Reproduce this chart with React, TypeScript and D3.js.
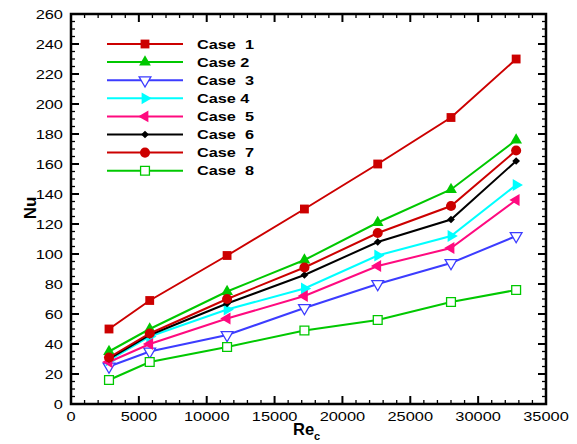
import React from "react";
import * as d3 from "d3";

const reValues = [2800, 5800, 11500, 17200, 22600, 28000, 32800];
const case1 = [50, 69, 99, 130, 160, 191, 230];
const case2 = [35, 50, 75, 96, 121, 143, 176];
const case3 = [25, 35, 46, 64, 80, 94, 112];
const case4 = [29, 45, 63, 77, 99, 112, 146];
const case5 = [28, 40, 57, 72, 92, 104, 136];
const case6 = [30, 46, 67, 86, 108, 123, 162];
const case7 = [31, 47, 70, 91, 114, 132, 169];
const case8 = [16, 28, 38, 49, 56, 68, 76];
const caseLabels = ["Case  1", "Case 2", "Case  3", "Case 4", "Case  5", "Case  6", "Case  7", "Case  8"];

const xTicks = d3.range(0, 35001, 5000);
const yTicks = d3.range(0, 261, 20);

const W = 577;
const H = 444;
const left = 71;
const right = 546;
const top = 14;
const bottom = 404;
const stretch = 1.3; // the source text is drawn wide

type Marker = "square" | "triUp" | "triDown" | "triRight" | "triLeft" | "diamond" | "circle" | "openSquare";

const series: { values: number[]; color: string; marker: Marker }[] = [
  { values: case1, color: "#cc0000", marker: "square" },
  { values: case2, color: "#00c800", marker: "triUp" },
  { values: case3, color: "#3c3cff", marker: "triDown" },
  { values: case4, color: "#00ffff", marker: "triRight" },
  { values: case5, color: "#ff0a7f", marker: "triLeft" },
  { values: case6, color: "#000000", marker: "diamond" },
  { values: case7, color: "#cc0000", marker: "circle" },
  { values: case8, color: "#00c800", marker: "openSquare" },
];

const triPath = d3.symbol(d3.symbolTriangle, 60)();
const squarePath = d3.symbol(d3.symbolSquare, 78)();
const circlePath = d3.symbol(d3.symbolCircle, 80)();
const diamondPath = d3.symbol(d3.symbolSquare, 30)();

function MarkerShape({ kind, color, x, y }: { kind: Marker; color: string; x: number; y: number }) {
  const t = `translate(${x},${y})`;
  switch (kind) {
    case "square":
      return <path d={squarePath!} transform={t} fill={color} />;
    case "openSquare":
      return <path d={squarePath!} transform={t} fill="white" stroke={color} strokeWidth={1.3} />;
    case "circle":
      return <path d={circlePath!} transform={t} fill={color} />;
    case "diamond":
      return <path d={diamondPath!} transform={`${t} rotate(45)`} fill={color} />;
    case "triUp":
      return <path d={triPath!} transform={t} fill={color} />;
    case "triDown":
      return <path d={triPath!} transform={`${t} rotate(180)`} fill="white" stroke={color} strokeWidth={1.3} />;
    case "triRight":
      return <path d={triPath!} transform={`${t} rotate(90)`} fill={color} />;
    case "triLeft":
      return <path d={triPath!} transform={`${t} rotate(-90)`} fill={color} />;
  }
}

export default function App() {
  const x = d3.scaleLinear().domain([0, 35000]).range([left, right]);
  const y = d3.scaleLinear().domain([0, 260]).range([bottom, top]);
  const line = d3
    .line<number>()
    .x((_, i) => x(reValues[i]))
    .y((d) => y(d));

  const xMinor = d3.range(0, 35001, 1000);
  const yMinor = d3.range(0, 261, 5);
  const font = "'Liberation Sans', Arial, sans-serif";

  return (
    <svg width={W} height={H} style={{ position: "absolute", left: 0, top: 0, background: "white" }} fontFamily={font}>
      {/* ticks on all four sides, pointing in */}
      <g stroke="black">
        {xMinor.map((v) => {
          const major = v % 5000 === 0;
          const len = major ? 8 : 4;
          return (
            <g key={"x" + v} strokeWidth={major ? 2 : 1.3}>
              <line x1={x(v)} x2={x(v)} y1={bottom} y2={bottom - len} />
              <line x1={x(v)} x2={x(v)} y1={top} y2={top + len} />
            </g>
          );
        })}
        {yMinor.map((v) => {
          const major = v % 20 === 0;
          const len = major ? 8 : 4;
          return (
            <g key={"y" + v} strokeWidth={major ? 2 : 1.3}>
              <line x1={left} x2={left + len} y1={y(v)} y2={y(v)} />
              <line x1={right} x2={right - len} y1={y(v)} y2={y(v)} />
            </g>
          );
        })}
      </g>

      {series.map((s, si) => (
        <g key={si}>
          <path d={line(s.values)!} fill="none" stroke={s.color} strokeWidth={2} />
          {s.values.map((v, i) => (
            <MarkerShape key={i} kind={s.marker} color={s.color} x={x(reValues[i])} y={y(v)} />
          ))}
        </g>
      ))}

      <rect x={left} y={top} width={right - left} height={bottom - top} fill="none" stroke="black" strokeWidth={2.5} />

      {/* tick labels */}
      <g fontSize={12.6} fill="black">
        {xTicks.map((v) => (
          <text key={v} transform={`translate(${x(v)},${bottom + 17}) scale(${stretch},1)`} textAnchor="middle">
            {v}
          </text>
        ))}
        {yTicks.map((v) => (
          <text key={v} transform={`translate(${left - 8},${y(v) + 4.5}) scale(${stretch},1)`} textAnchor="end">
            {v}
          </text>
        ))}
      </g>

      <text x={293} y={435} fontSize={16.5} fontWeight="bold">
        Re<tspan fontSize={11} dy={5}>c</tspan>
      </text>
      <text transform="translate(36,208) rotate(-90)" fontSize={17} fontWeight="bold" textAnchor="middle">
        Nu
      </text>

      {/* legend */}
      <g>
        {series.map((s, i) => {
          const ly = 44 + i * 18.1;
          return (
            <g key={i}>
              <line x1={107} x2={183} y1={ly} y2={ly} stroke={s.color} strokeWidth={2} />
              <MarkerShape kind={s.marker} color={s.color} x={145} y={ly} />
              <text
                transform={`translate(197,${ly + 4.5}) scale(1.27,1)`}
                fontSize={12.8}
                fontWeight="bold"
                style={{ whiteSpace: "pre" }}
              >
                {caseLabels[i]}
              </text>
            </g>
          );
        })}
      </g>
    </svg>
  );
}
